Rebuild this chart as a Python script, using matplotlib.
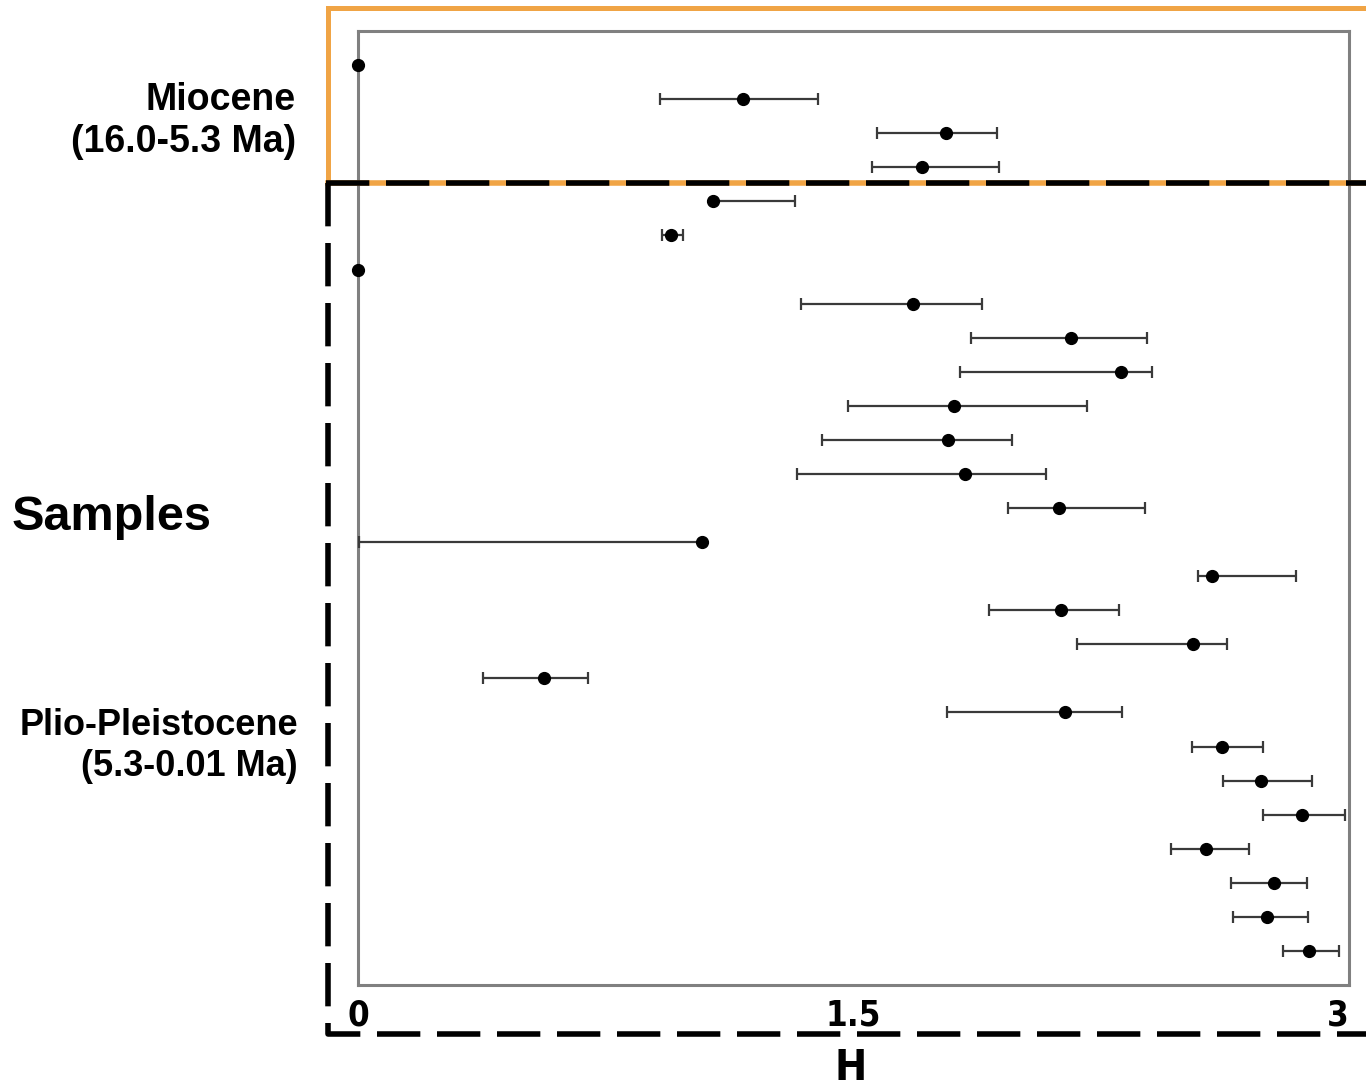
import matplotlib
matplotlib.use('Agg')
import matplotlib.pyplot as plt
from matplotlib.lines import Line2D

# H estimates per sample (top to bottom) with lower / upper interval ends
h_mean = [0.0, 1.165, 1.780, 1.707, 1.075, 0.948, 0.0, 1.680, 2.158, 2.310,
          1.804, 1.786, 1.838, 2.122, 1.041, 2.585, 2.128, 2.528, 0.563, 2.140,
          2.616, 2.734, 2.858, 2.567, 2.773, 2.752, 2.879]
h_low = [0.0, 0.914, 1.571, 1.556, 1.075, 0.920, 0.0, 1.341, 1.856, 1.822,
         1.483, 1.405, 1.329, 1.968, 0.003, 2.543, 1.910, 2.177, 0.378, 1.783,
         2.525, 2.619, 2.740, 2.461, 2.643, 2.649, 2.800]
h_high = [0.0, 1.393, 1.934, 1.940, 1.323, 0.984, 0.0, 1.889, 2.389, 2.404,
          2.207, 1.980, 2.083, 2.382, 1.041, 2.840, 2.304, 2.631, 0.696, 2.313,
          2.740, 2.888, 2.988, 2.697, 2.873, 2.876, 2.970]
x_ticks = [0, 1.5, 3]
x_tick_labels = ['0', '1.5', '3']

W, H = 1366, 1092
fig = plt.figure(figsize=(W / 100, H / 100), dpi=100)
ax = fig.add_axes([358 / W, 1 - 985 / H, 991 / W, 954 / H])

rows = list(range(len(h_mean)))
err_lo = [m - l for m, l in zip(h_mean, h_low)]
err_hi = [h - m for m, h in zip(h_mean, h_high)]

eb = ax.errorbar(h_mean, rows, xerr=[err_lo, err_hi], fmt='o', color='black',
                 markersize=8.5, ecolor='#3a3a3a', elinewidth=1.6, capsize=4.5,
                 capthick=1.6, zorder=3)
for art in eb.get_children():
    art.set_clip_on(False)

ax.set_xlim(0, 3)
ax.set_ylim(len(h_mean), -1)
ax.set_yticks([])
ax.set_xticks(x_ticks)
ax.set_xticklabels(x_tick_labels)
ax.tick_params(axis='x', length=0, pad=10)
for lab in ax.get_xticklabels():
    lab.set_fontfamily('DejaVu Sans')
    lab.set_fontstretch('condensed')
    lab.set_fontweight('bold')
    lab.set_fontsize(25)
ax.get_xticklabels()[-1].set_horizontalalignment('right')

for sp in ax.spines.values():
    sp.set_color('#808080')
    sp.set_linewidth(2.2)


def fx(px):
    return px / W


def fy(py):
    return 1 - py / H


orange = '#F0A445'
# Miocene box (orange)
fig.add_artist(Line2D([fx(1400), fx(328), fx(328)], [fy(8), fy(8), fy(183)],
                      transform=fig.transFigure, color=orange, lw=3.6,
                      solid_joinstyle='miter', clip_on=False))
fig.add_artist(Line2D([fx(328), fx(1400)], [fy(183), fy(183)],
                      transform=fig.transFigure, color=orange, lw=4,
                      clip_on=False))
fig.add_artist(Line2D([fx(326), fx(1400)], [fy(183), fy(183)],
                      transform=fig.transFigure, color='black', lw=4,
                      dashes=(7.8, 3.0), clip_on=False))
# Plio-Pleistocene box (dashed black)
fig.add_artist(Line2D([fx(328), fx(328), fx(1400)], [fy(183), fy(1034), fy(1034)],
                      transform=fig.transFigure, color='black', lw=4,
                      dashes=(7.8, 3.0), clip_on=False))

lab_font = ['Liberation Sans', 'DejaVu Sans']
fig.text(fx(296), fy(121), 'Miocene\n(16.0-5.3 Ma)', ha='right', va='center',
         fontsize=27, fontweight='bold', family=lab_font, linespacing=1.2)
fig.text(fx(12), fy(518), 'Samples', ha='left', va='center',
         fontsize=35, fontweight='bold', family=lab_font)
fig.text(fx(298), fy(746), 'Plio-Pleistocene\n(5.3-0.01 Ma)', ha='right',
         va='center', fontsize=26, fontweight='bold', family=lab_font,
         linespacing=1.2)
fig.text(fx(851), fy(1068), 'H', ha='center', va='center', fontsize=31,
         fontweight='bold', fontstretch='condensed', family='DejaVu Sans')

fig.savefig('out.png', dpi=100)
